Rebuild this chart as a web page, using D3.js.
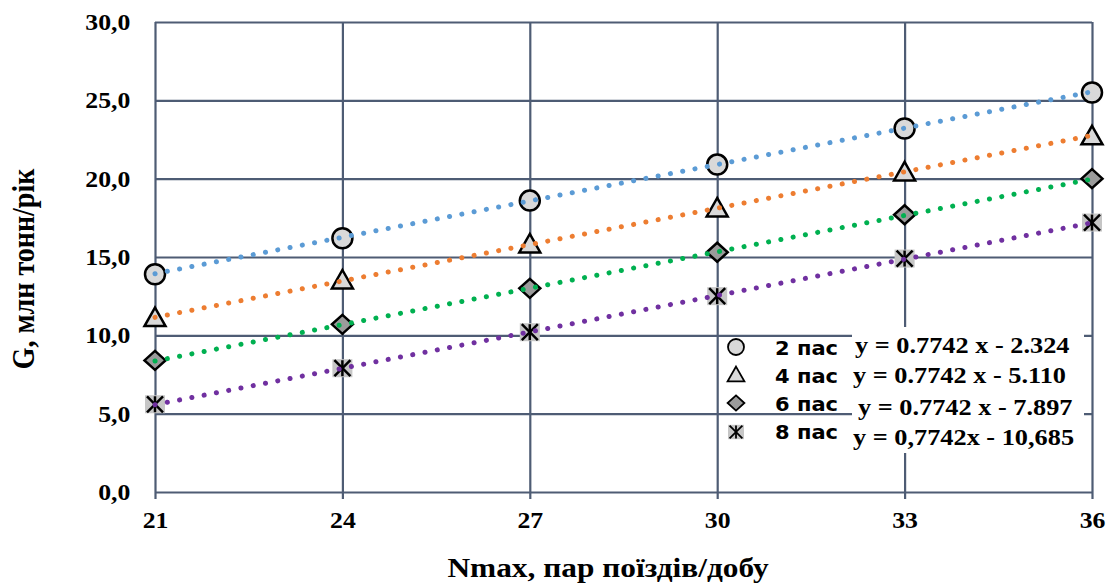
<!DOCTYPE html>
<html>
<head>
<meta charset="utf-8">
<script src="https://cdn.jsdelivr.net/npm/d3@7"></script>
<style>
  body { margin: 0; background: #fff; }
  svg { display: block; }
</style>
</head>
<body>
<div id="chart"></div>
<script>
// values
var nmax = [21, 24, 27, 30, 33, 36];
var pas2 = [13.9, 16.2, 18.6, 20.9, 23.2, 25.5];
var pas4 = [11.1, 13.5, 15.8, 18.1, 20.4, 22.7];
var pas6 = [8.4, 10.7, 13.0, 15.3, 17.7, 20.0];
var pas8 = [5.6, 7.9, 10.2, 12.5, 14.9, 17.2];

var seriesNames = ["2 пас", "4 пас", "6 пас", "8 пас"];
var slopes = [0.7742, 0.7742, 0.7742, 0.7742];
var intercepts = [-2.324, -5.110, -7.897, -10.685];
var equations = ["y = 0.7742 x - 2.324", "y = 0.7742 x - 5.110", "y = 0.7742 x - 7.897", "y = 0,7742x - 10,685"];
var yTicks = [0, 5, 10, 15, 20, 25, 30];

var lineColors = ["#5b9bd5", "#ed7d31", "#00b050", "#7030a0"];
var markerTypes = ["circle", "triangle", "diamond", "star"];
var gridColor = "#4e5c74";
var stretch = 1.12;

var series = [pas2, pas4, pas6, pas8];

var svg = d3.select("#chart").append("svg")
  .attr("width", 1111)
  .attr("height", 585);

var pLeft = 155, pRight = 1092, pTop = 22, pBottom = 492;

var x = d3.scaleLinear().domain([21, 36]).range([pLeft, pRight]);
var y = d3.scaleLinear().domain([0, 30]).range([pBottom, pTop]);

// horizontal grid + y labels
var yAxis = svg.append("g")
  .attr("transform", "translate(" + pLeft + ",0)")
  .call(d3.axisLeft(y).tickValues(yTicks).tickSize(-(pRight - pLeft)).tickPadding(22)
    .tickFormat(function(d){ return d3.format(".1f")(d).replace(".", ","); }));
yAxis.select(".domain").remove();
yAxis.selectAll("line").attr("stroke", gridColor).attr("stroke-width", 2.2);
yAxis.selectAll("text")
  .attr("font-family", "'Liberation Serif', 'Times New Roman', serif")
  .attr("font-weight", "bold")
  .attr("font-size", 23)
  .attr("fill", "#000")
  .attr("transform", "scale(" + stretch + ",1)");

// vertical grid
var xGrid = svg.append("g")
  .attr("transform", "translate(0," + pTop + ")")
  .call(d3.axisBottom(x).tickValues(nmax).tickSize(pBottom - pTop + 7).tickFormat(""));
xGrid.select(".domain").remove();
xGrid.selectAll("line").attr("stroke", gridColor).attr("stroke-width", 2.2);

// x labels
var xAxis = svg.append("g")
  .attr("transform", "translate(0," + pBottom + ")")
  .call(d3.axisBottom(x).tickValues(nmax).tickSize(0).tickPadding(20).tickFormat(d3.format("d")));
xAxis.select(".domain").remove();
xAxis.selectAll("text")
  .attr("font-family", "'Liberation Serif', 'Times New Roman', serif")
  .attr("font-weight", "bold")
  .attr("font-size", 23)
  .attr("fill", "#000")
  .attr("transform", "scale(" + stretch + ",1)");

function drawMarker(g, type, cx, cy, s, sw) {
  if (type == "circle") {
    g.append("circle").attr("cx", cx).attr("cy", cy).attr("r", 10 * s)
      .attr("fill", "#d9d9d9").attr("stroke", "#000").attr("stroke-width", sw);
  } else if (type == "triangle") {
    var p = [[0, -10.5], [10.5, 8], [-10.5, 8]].map(function(v){ return [cx + v[0] * s, cy + v[1] * s]; });
    g.append("polygon").attr("points", p.join(" "))
      .attr("fill", "#d9d9d9").attr("stroke", "#000").attr("stroke-width", sw);
  } else if (type == "diamond") {
    var q = [[0, -9.5], [10.5, 0], [0, 9.5], [-10.5, 0]].map(function(v){ return [cx + v[0] * s, cy + v[1] * s]; });
    g.append("polygon").attr("points", q.join(" "))
      .attr("fill", "#9b9b9b").attr("stroke", "#000").attr("stroke-width", sw);
  } else {
    g.append("rect").attr("x", cx - 10 * s).attr("y", cy - 9 * s)
      .attr("width", 20 * s).attr("height", 18 * s).attr("fill", "#c6c6c6");
    var a = 8 * s;
    [[-a, -a, a, a], [-a, a, a, -a], [0, -a, 0, a]].forEach(function(l){
      g.append("line").attr("x1", cx + l[0]).attr("y1", cy + l[1]).attr("x2", cx + l[2]).attr("y2", cy + l[3])
        .attr("stroke", "#000").attr("stroke-width", sw);
    });
  }
}

// markers
var markG = svg.append("g");
series.forEach(function(vals, k){
  vals.forEach(function(v, i){
    drawMarker(markG, markerTypes[k], x(nmax[i]), y(v), 1, 2.5);
  });
});

// dotted trend lines, on top of markers
var line = d3.line().x(function(d){ return x(d[0]); }).y(function(d){ return y(d[1]); });
series.forEach(function(vals, k){
  var pts = [21, 36].map(function(n){ return [n, slopes[k] * n + intercepts[k]]; });
  svg.append("path")
    .attr("d", line(pts))
    .attr("fill", "none")
    .attr("stroke", lineColors[k])
    .attr("stroke-width", 5)
    .attr("stroke-linecap", "round")
    .attr("stroke-dasharray", "0.1 12.4");
});

// equation box
svg.append("rect").attr("x", 852).attr("y", 327).attr("width", 232).attr("height", 126).attr("fill", "#fff");

var legendY = [347, 375, 403, 432];
var labelBase = [355, 383, 411, 439];
var eqBase = [353, 383, 415, 445];
var eqX = [855, 853, 858, 853];

var legG = svg.append("g");
seriesNames.forEach(function(name, k){
  drawMarker(legG, markerTypes[k], 736, legendY[k], 0.8, 1.8);
  legG.append("text")
    .attr("transform", "translate(775," + labelBase[k] + ") scale(1.05,1)")
    .attr("font-family", "'DejaVu Sans', Verdana, sans-serif")
    .attr("font-weight", "bold")
    .attr("font-size", 20)
    .text(name);
  legG.append("text")
    .attr("transform", "translate(" + eqX[k] + "," + eqBase[k] + ") scale(" + stretch + ",1)")
    .attr("font-family", "'Liberation Serif', 'Times New Roman', serif")
    .attr("font-weight", "bold")
    .attr("font-size", 23.5)
    .attr("xml:space", "preserve")
    .text(equations[k]);
});

// axis titles
svg.append("text")
  .attr("transform", "translate(608,577) scale(" + stretch + ",1)")
  .attr("text-anchor", "middle")
  .attr("font-family", "'Liberation Serif', 'Times New Roman', serif")
  .attr("font-weight", "bold")
  .attr("font-size", 28)
  .text("Nmax, пар поїздів/добу");

svg.append("text")
  .attr("transform", "translate(34,269) scale(" + stretch + ",1) rotate(-90)")
  .attr("text-anchor", "middle")
  .attr("font-family", "'Liberation Serif', 'Times New Roman', serif")
  .attr("font-weight", "bold")
  .attr("font-size", 28)
  .text("G, млн тонн/рік");
</script>
</body>
</html>
